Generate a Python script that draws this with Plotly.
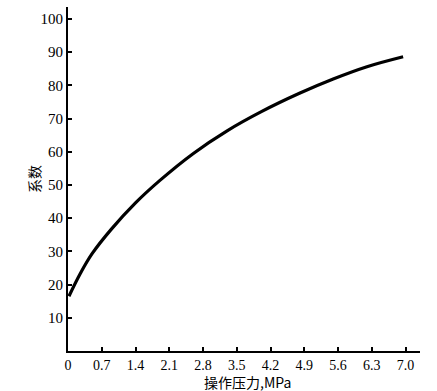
import plotly.graph_objects as go

pressure = [0.02, 0.25, 0.5, 0.9, 1.4, 1.9, 2.6, 3.3, 4.0, 4.8, 5.5, 6.2, 6.95]
coef = [16.5, 23.2, 29.3, 36.7, 44.6, 51.3, 59.5, 66.3, 72.0, 77.6, 81.9, 85.6, 88.6]

x_ticks = [0, 0.7, 1.4, 2.1, 2.8, 3.5, 4.2, 4.9, 5.6, 6.3, 7.0]
x_labels = ["0", "0.7", "1.4", "2.1", "2.8", "3.5", "4.2", "4.9", "5.6", "6.3", "7.0"]
y_ticks = [10, 20, 30, 40, 50, 60, 70, 80, 90, 100]
y_labels = ["10", "20", "30", "40", "50", "60", "70", "80", "90", "100"]

font_serif = "Liberation Serif, DejaVu Serif, serif"
font_cjk = "Noto Sans CJK SC"

ML, MR, MT, MB = 68, 17, 7, 40
W, H = 437, 391

fig = go.Figure()
fig.add_trace(go.Scatter(
    x=pressure, y=coef, mode="lines",
    line=dict(color="black", width=3.2, shape="spline", smoothing=1.0),
    showlegend=False, hoverinfo="skip",
))

pw, ph = W - ML - MR, H - MT - MB


def px_to_paper(px, py):
    return (px - ML) / pw, (H - MB - py) / ph


tx, ty = px_to_paper(247, 382)
yx, yy = px_to_paper(34, 179)

fig.update_layout(
    width=W, height=H,
    margin=dict(l=ML, r=MR, t=MT, b=MB, autoexpand=False),
    paper_bgcolor="white", plot_bgcolor="white",
    xaxis=dict(
        range=[0, 7.3], tickvals=x_ticks, ticktext=x_labels,
        showgrid=False, zeroline=False, automargin=False,
        showline=True, linecolor="black", linewidth=2,
        ticks="inside", ticklen=4, tickwidth=1.5, tickcolor="black",
        tickfont=dict(family=font_serif, size=14, color="black"),
        fixedrange=True,
    ),
    yaxis=dict(
        range=[0, 103.6], tickvals=y_ticks, ticktext=y_labels,
        showgrid=False, zeroline=False, automargin=False,
        showline=True, linecolor="black", linewidth=2,
        ticks="inside", ticklen=4, tickwidth=1.5, tickcolor="black",
        tickfont=dict(family=font_serif, size=15, color="black"),
        fixedrange=True,
    ),
    annotations=[
        dict(text="操作压力,MPa", x=tx, y=ty, xref="paper", yref="paper",
             xanchor="center", yanchor="middle",
             showarrow=False, font=dict(family=font_cjk, size=14, color="black")),
        dict(text="系数", x=yx, y=yy, xref="paper", yref="paper", textangle=-90,
             xanchor="center", yanchor="middle",
             showarrow=False, font=dict(family=font_cjk, size=14, color="black")),
    ],
)

fig.write_html("out.html", config={"displayModeBar": False},
               post_script="document.body.style.margin='0';")
